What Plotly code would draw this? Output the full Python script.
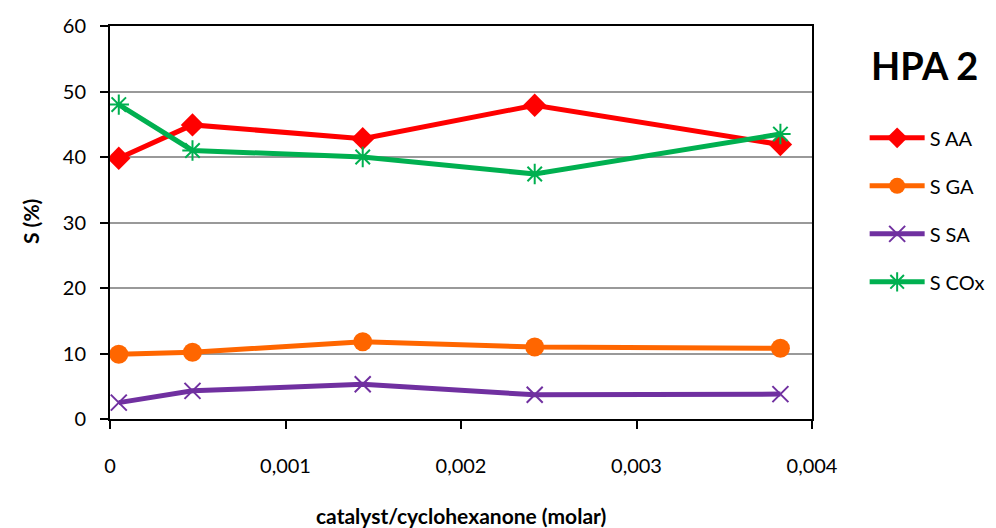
import plotly.graph_objects as go

x_vals = [0.00005, 0.00047, 0.00144, 0.00242, 0.00382]
s_aa = [39.8, 44.9, 42.8, 47.9, 41.9]
s_ga = [9.9, 10.2, 11.8, 11.0, 10.8]
s_sa = [2.5, 4.3, 5.3, 3.7, 3.8]
s_cox = [48.0, 41.0, 40.0, 37.4, 43.5]

x_tickvals = [0, 0.001, 0.002, 0.003, 0.004]
x_ticktext = ["0", "0,001", "0,002", "0,003", "0,004"]
y_tickvals = [0, 10, 20, 30, 40, 50, 60]

FONT = "Lato, 'Open Sans', sans-serif"
L, R, T, B = 110, 184, 26, 109
PW, PH = 996 - L - R, 528 - T - B

def px_x(px):
    return (px - L) / PW

def px_y(py):
    return 1 - (py - T) / PH

fig = go.Figure()
series = [
    ("S AA", s_aa, "#FF0000", dict(symbol="diamond", size=18)),
    ("S GA", s_ga, "#FF6600", dict(symbol="circle", size=19)),
    ("S SA", s_sa, "#7030A0", dict(symbol="x-thin-open", size=16, line=dict(width=2, color="#7030A0"))),
    ("S COx", s_cox, "#00B050", dict(symbol="asterisk-open", size=17, line=dict(width=2, color="#00B050"))),
]
for name, ys, col, mk in series:
    mk = dict(mk)
    mk["color"] = col
    fig.add_trace(go.Scatter(x=x_vals, y=ys, name=name, legendgroup=name, mode="lines+markers",
                             line=dict(color=col, width=5), marker=mk))

fig.update_layout(
    width=996, height=528,
    margin=dict(l=L, r=R, t=T, b=B, autoexpand=False),
    paper_bgcolor="white", plot_bgcolor="white",
    font=dict(family=FONT, size=20, color="black"),
    showlegend=True,
    legend=dict(x=1.075, y=0.765, xanchor="left", yanchor="top",
                font=dict(size=20), tracegroupgap=19, itemwidth=55,
                bgcolor="rgba(0,0,0,0)"),
    annotations=[
        dict(text="<b>HPA 2</b>", x=px_x(980), y=px_y(65), xref="paper", yref="paper",
             xanchor="right", yanchor="middle", showarrow=False,
             font=dict(size=38, family=FONT, color="black")),
        dict(text="<b>catalyst/cyclohexanone (molar)</b>", x=px_x(461), y=px_y(515),
             xref="paper", yref="paper", xanchor="center", yanchor="middle", showarrow=False,
             font=dict(size=21, family=FONT, color="black")),
        dict(text="<b>S (%)</b>", x=px_x(30), y=px_y(222), textangle=-90,
             xref="paper", yref="paper", xanchor="center", yanchor="middle", showarrow=False,
             font=dict(size=21, family=FONT, color="black")),
    ],
)
fig.update_xaxes(range=[0, 0.004], tickvals=x_tickvals, ticktext=x_ticktext, automargin=False,
                 showgrid=False, zeroline=False, showline=True, linecolor="black", linewidth=2,
                 mirror=True, ticks="outside", ticklen=8, tickcolor="black", tickwidth=1.5,
                 ticklabelstandoff=20)
fig.update_yaxes(range=[0, 60], tickvals=y_tickvals, automargin=False,
                 showgrid=True, gridcolor="#999999", gridwidth=1.5,
                 zeroline=False, showline=True, linecolor="black", linewidth=2, mirror=True,
                 ticks="outside", ticklen=8, tickcolor="black", tickwidth=1.5,
                 ticklabelstandoff=10)

fig.write_html("out.html", config={"displayModeBar": False},
               post_script="document.body.style.margin='0';")
